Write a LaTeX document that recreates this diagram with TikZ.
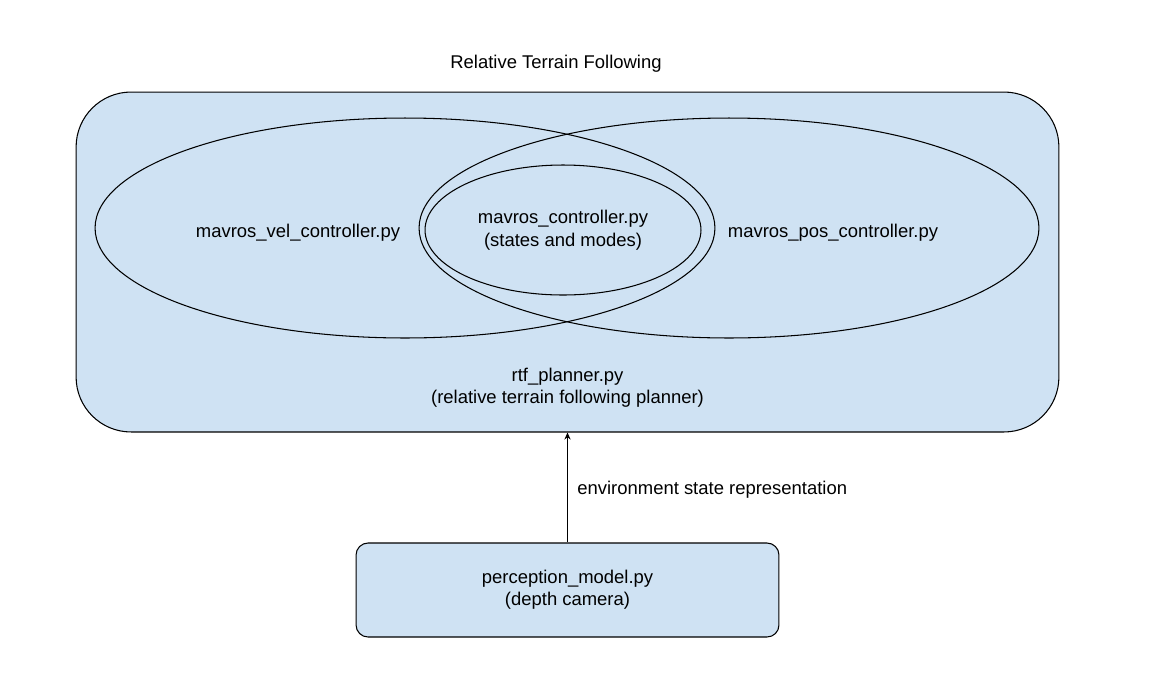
\documentclass[tikz,border=0pt]{standalone}
\usepackage{fontspec}
\setmainfont{Liberation Sans}
\usetikzlibrary{shapes.geometric,arrows.meta}
\definecolor{boxfill}{HTML}{CFE2F3}
\definecolor{ink}{HTML}{000000}
\tikzset{
  frame/.style={draw=ink, fill=boxfill, line width=0.6pt, rounded corners=1.1cm,
    minimum width=19.66cm, minimum height=6.8cm, inner sep=0pt},
  module/.style={draw=ink, fill=boxfill, line width=0.6pt, rounded corners=0.24cm,
    minimum width=8.46cm, minimum height=1.88cm, align=center,
    font=\fontsize{10.5}{12.5}\selectfont},
  ctrl/.style={ellipse, draw=ink, line width=0.6pt, inner sep=0pt,
    minimum width=12.4cm, minimum height=4.4cm},
  core/.style={ellipse, draw=ink, line width=0.6pt, inner sep=0pt,
    minimum width=5.52cm, minimum height=2.6cm, align=center,
    font=\fontsize{10.5}{12.5}\selectfont},
  lbl/.style={text=ink, align=center, font=\fontsize{10.5}{12.5}\selectfont},
  link/.style={draw=ink, line width=0.6pt, -{Stealth[length=4pt,width=3.5pt]}}
}

\begin{document}
\begin{tikzpicture}[x=0.02cm, y=-0.02cm]
\useasboundingbox (0,0) rectangle (1165,683);
\node[lbl] (title) at (556,64) {Relative Terrain Following};
% planner frame with the controllers
\node[frame] (rtf) at (567.5,262) {};
\node[ctrl] (velell) at (405,228) {};
\node[ctrl] (posell) at (729,228) {};
\node[core] (mavros) at (563,230) {\raisebox{-2pt}{\shortstack{mavros\_controller.py\\(states and modes)}}};
\node[lbl] (vel) at (298,233) {mavros\_vel\_controller.py};
\node[lbl] (pos) at (833,233) {mavros\_pos\_controller.py};
\node[lbl] (planner) at (567.5,388) {rtf\_planner.py\\(relative terrain following planner)};
% perception
\node[module] (percept) at (567.5,590) {\raisebox{-1pt}{perception\_model.py}\\\raisebox{-1pt}{(depth camera)}};
\draw[link] (percept.north) -- node[lbl, anchor=west, xshift=2pt, yshift=-1pt] (envlbl) {environment state representation} (rtf.south);
\end{tikzpicture}
\end{document}
